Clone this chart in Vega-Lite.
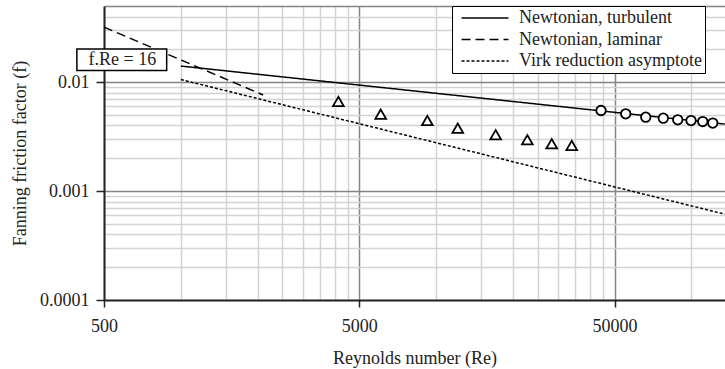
{
  "$schema": "https://vega.github.io/schema/vega-lite/v6.json",
  "width": 621,
  "height": 294,
  "autosize": {"type": "none"},
  "padding": {"left": 104, "top": 6, "right": 0, "bottom": 69},
  "background": "white",
  "config": {
    "font": "Liberation Serif",
    "view": {"stroke": null},
    "text": {"font": "Liberation Serif"},
    "axis": {"labelFont": "Liberation Serif", "titleFont": "Liberation Serif"},
    "legend": {"labelFont": "Liberation Serif", "titleFont": "Liberation Serif"}
  },
  "datasets": {
    "lines": [
      {"series": "Newtonian, turbulent", "Re": 1000, "f": 0.01405},
      {"series": "Newtonian, turbulent", "Re": 135000, "f": 0.00412},
      {"series": "Newtonian, laminar", "Re": 500, "f": 0.032},
      {"series": "Newtonian, laminar", "Re": 2100, "f": 0.00762},
      {"series": "Virk reduction asymptote", "Re": 1000, "f": 0.01056},
      {"series": "Virk reduction asymptote", "Re": 135000, "f": 0.000614}
    ],
    "triangles": [
      {"Re": 4140, "f": 0.00664},
      {"Re": 6065, "f": 0.00508},
      {"Re": 9234, "f": 0.00444},
      {"Re": 12150, "f": 0.00378},
      {"Re": 17100, "f": 0.00329},
      {"Re": 22750, "f": 0.00296},
      {"Re": 28350, "f": 0.00272},
      {"Re": 33960, "f": 0.00262}
    ],
    "circles": [
      {"Re": 44230, "f": 0.00549},
      {"Re": 55260, "f": 0.00512},
      {"Re": 66200, "f": 0.00477},
      {"Re": 77550, "f": 0.00467},
      {"Re": 88350, "f": 0.00451},
      {"Re": 99600, "f": 0.00444},
      {"Re": 110650, "f": 0.00435},
      {"Re": 121150, "f": 0.00421}
    ],
    "note": [
      {"label": "f.Re = 16", "Re": 590, "f": 0.01602, "Re_lo": 391.5, "Re_hi": 880, "f_lo": 0.01278, "f_hi": 0.0202}
    ]
  },
  "layer": [
    {
      "data": {"name": "lines"},
      "mark": {"type": "line", "color": "black", "strokeWidth": 1.5},
      "encoding": {
        "x": {
          "field": "Re", "type": "quantitative", "title": "Reynolds number (Re)",
          "scale": {"type": "log", "domain": [500, 135300], "nice": false},
          "axis": {
            "values": [500, 1000, 1500, 2000, 2500, 3000, 3500, 4000, 4500, 5000, 10000, 15000, 20000, 25000, 30000, 35000, 40000, 45000, 50000, 100000],
            "labelExpr": "datum.value == 500 ? '500' : datum.value == 5000 ? '5000' : datum.value == 50000 ? '50000' : ''",
            "labelFlush": false, "labelOverlap": false, "labelBound": false,
            "labelFontSize": 18, "labelColor": "#222", "labelFont": "Liberation Serif", "labelPadding": 10,
            "titleFontSize": 18, "titleFont": "Liberation Serif", "titleFontWeight": "normal", "titleColor": "#222", "titlePadding": 14,
            "domainColor": "#222", "domainWidth": 2,
            "tickColor": "#222", "tickWidth": 1.5, "tickSize": 7,
            "tickOpacity": {"condition": {"test": "datum.value == 500 || datum.value == 5000 || datum.value == 50000", "value": 1}, "value": 0},
            "grid": true,
            "gridColor": {"condition": {"test": "datum.value == 5000 || datum.value == 50000", "value": "#858585"}, "value": "#d3d3d3"},
            "gridWidth": 1.5
          }
        },
        "y": {
          "field": "f", "type": "quantitative", "title": "Fanning friction factor (f)",
          "scale": {"type": "log", "domain": [0.0001, 0.05], "nice": false},
          "axis": {
            "values": [0.0001, 0.0002, 0.0003, 0.0004, 0.0005, 0.0006, 0.0007, 0.0008, 0.0009, 0.001, 0.002, 0.003, 0.004, 0.005, 0.006, 0.007, 0.008, 0.009, 0.01, 0.02, 0.03, 0.04, 0.05],
            "labelExpr": "datum.value == 0.01 ? '0.01' : datum.value == 0.001 ? '0.001' : datum.value == 0.0001 ? '0.0001' : ''",
            "labelOverlap": false, "labelBound": false, "labelFlush": false,
            "labelFontSize": 18, "labelColor": "#222", "labelFont": "Liberation Serif", "labelPadding": 7,
            "titleFontSize": 18, "titleFont": "Liberation Serif", "titleFontWeight": "normal", "titleColor": "#222", "titlePadding": 10,
            "domainColor": "#222", "domainWidth": 2,
            "tickColor": "#222", "tickWidth": 1.5, "tickSize": 8,
            "tickOpacity": {"condition": {"test": "datum.value == 0.01 || datum.value == 0.001 || datum.value == 0.0001", "value": 1}, "value": 0},
            "grid": true,
            "gridColor": {"condition": {"test": "datum.value == 0.01 || datum.value == 0.001 || datum.value == 0.05", "value": "#858585"}, "value": "#d3d3d3"},
            "gridWidth": 1.5
          }
        },
        "strokeDash": {
          "field": "series", "type": "nominal",
          "scale": {"domain": ["Newtonian, turbulent", "Newtonian, laminar", "Virk reduction asymptote"], "range": [[1, 0], [9, 5], [3, 2]]},
          "legend": {
            "title": null, "orient": "none", "legendX": 348, "legendY": 0,
            "strokeColor": "black", "fillColor": "white", "padding": 3,
            "symbolType": "M-3,0H3", "symbolSize": 245, "symbolStrokeWidth": 1.5, "symbolStrokeColor": "black", "symbolFillColor": "transparent", "symbolOffset": 21,
            "labelFontSize": 18, "labelFont": "Liberation Serif", "labelColor": "#222", "labelOffset": 25, "labelLimit": 400,
            "labelExpr": "datum.label + '\u00a0\u00a0\u00a0\u00a0\u00a0\u00a0\u00a0'",
            "rowPadding": 3.5
          }
        }
      }
    },
    {
      "data": {"name": "triangles"},
      "mark": {"type": "point", "shape": "triangle-up", "size": 115, "fill": "white", "stroke": "black", "strokeWidth": 1.8, "opacity": 1, "filled": true},
      "encoding": {
        "x": {"field": "Re", "type": "quantitative", "title": "Reynolds number (Re)"},
        "y": {"field": "f", "type": "quantitative", "title": "Fanning friction factor (f)"}
      }
    },
    {
      "data": {"name": "circles"},
      "mark": {"type": "point", "shape": "circle", "size": 90, "fill": "white", "stroke": "black", "strokeWidth": 1.8, "opacity": 1, "filled": true},
      "encoding": {
        "x": {"field": "Re", "type": "quantitative", "title": "Reynolds number (Re)"},
        "y": {"field": "f", "type": "quantitative", "title": "Fanning friction factor (f)"}
      }
    },
    {
      "data": {"name": "note"},
      "mark": {"type": "rect", "fill": "white", "stroke": "black", "strokeWidth": 1.5},
      "encoding": {
        "x": {"field": "Re_lo", "type": "quantitative", "title": "Reynolds number (Re)"},
        "x2": {"field": "Re_hi"},
        "y": {"field": "f_lo", "type": "quantitative", "title": "Fanning friction factor (f)"},
        "y2": {"field": "f_hi"}
      }
    },
    {
      "data": {"name": "note"},
      "mark": {"type": "text", "fontSize": 18, "font": "Liberation Serif", "color": "#222", "align": "center", "baseline": "middle"},
      "encoding": {
        "x": {"field": "Re", "type": "quantitative", "title": "Reynolds number (Re)"},
        "y": {"field": "f", "type": "quantitative", "title": "Fanning friction factor (f)"},
        "text": {"field": "label"}
      }
    }
  ]
}
